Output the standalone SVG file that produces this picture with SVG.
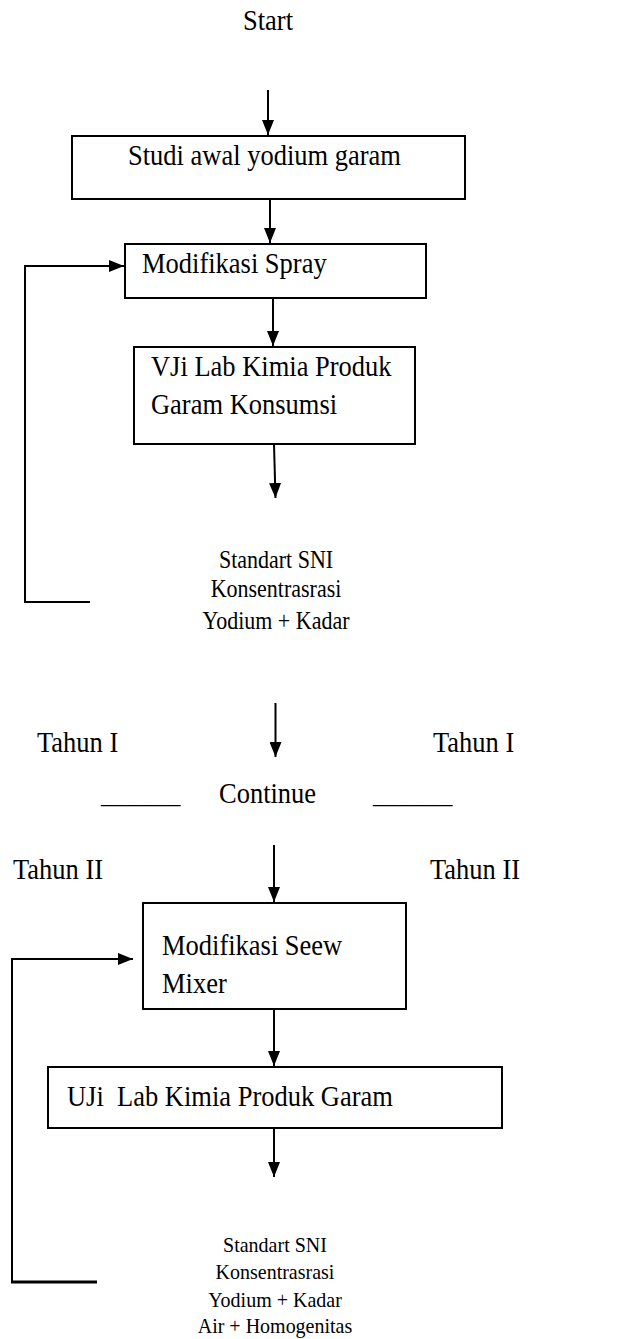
<svg xmlns="http://www.w3.org/2000/svg" width="626" height="1339" viewBox="0 0 626 1339">
<style>
text{font-family:"Liberation Serif","Times New Roman",serif;fill:#000}
.m{font-size:26.5px}
.s{font-size:22px;text-anchor:middle}
.t{font-size:20px;text-anchor:middle}
.box{fill:#fff;stroke:#000;stroke-width:2}
.c{fill:none;stroke:#000;stroke-width:2}
</style>
<defs>
<marker id="ah" viewBox="0 0 15 12" refX="15" refY="6" markerWidth="7.5" markerHeight="6" markerUnits="strokeWidth" orient="auto">
<path d="M0,0 L15,6 L0,12 z" fill="#000"/>
</marker>
</defs>
<g id="start"><text class="m" x="268" y="30" text-anchor="middle" transform="translate(0,-3) scale(1,1.1)">Start</text></g>
<g id="n1"><rect class="box" x="72" y="136" width="393" height="63"/><text class="m" x="128" y="165" transform="translate(0,-16.5) scale(1,1.1)">Studi awal yodium garam</text></g>
<g id="n2"><rect class="box" x="125" y="244" width="301" height="54"/><text class="m" x="142" y="273" transform="translate(0,-27.3) scale(1,1.1)">Modifikasi Spray</text></g>
<g id="n3"><rect class="box" x="134" y="347" width="281" height="97"/><text class="m" transform="translate(0,-37.6) scale(1,1.1)"><tspan x="151" y="376">VJi Lab Kimia Produk</tspan><tspan x="151" y="411">Garam Konsumsi</tspan></text></g>
<g id="r1"><text class="s" transform="translate(0,-57) scale(1,1.1)"><tspan x="276" y="568">Standart SNI</tspan><tspan x="276" y="595">Konsentrasrasi</tspan><tspan x="276" y="623.5">Yodium + Kadar</tspan></text></g>
<g id="tahun1"><text class="m" x="37" y="752" transform="translate(0,-75.2) scale(1,1.1)">Tahun I</text><text class="m" x="433" y="752" transform="translate(0,-75.2) scale(1,1.1)">Tahun I</text></g>
<g id="continue"><text class="m" x="219" y="803" transform="translate(0,-80.3) scale(1,1.1)">Continue</text><text class="m" x="101" y="802.5">______</text><text class="m" x="373" y="802.5">______</text></g>
<g id="tahun2"><text class="m" x="13" y="879" transform="translate(0,-87.9) scale(1,1.1)">Tahun II</text><text class="m" x="430" y="879" transform="translate(0,-87.9) scale(1,1.1)">Tahun II</text></g>
<g id="n4"><rect class="box" x="143" y="903" width="263" height="106"/><text class="m" transform="translate(0,-95.5) scale(1,1.1)"><tspan x="162" y="955">Modifikasi Seew</tspan><tspan x="162" y="990">Mixer</tspan></text></g>
<g id="n5"><rect class="box" x="48" y="1067" width="454" height="61"/><text class="m" x="67" y="1106" transform="translate(0,-110.6) scale(1,1.1)" xml:space="preserve">UJi  Lab Kimia Produk Garam</text></g>
<g id="r2"><text class="t" transform="translate(0,-125) scale(1,1.1)"><tspan x="275" y="1251.5">Standart SNI</tspan><tspan x="275" y="1276">Konsentrasrasi</tspan><tspan x="275" y="1301.5">Yodium + Kadar</tspan><tspan x="275" y="1325.5">Air + Homogenitas</tspan></text></g>
<g id="connectors">
<line class="c" x1="268" y1="90" x2="268" y2="135" marker-end="url(#ah)"/>
<line class="c" x1="270" y1="199" x2="270" y2="243" marker-end="url(#ah)"/>
<line class="c" x1="273" y1="298" x2="273" y2="346" marker-end="url(#ah)"/>
<line class="c" x1="274" y1="444" x2="275.5" y2="498" marker-end="url(#ah)"/>
<polyline class="c" points="90,602 25,602 25,266 124,266" marker-end="url(#ah)"/>
<line class="c" x1="275.5" y1="703" x2="275.5" y2="757" marker-end="url(#ah)"/>
<line class="c" x1="274" y1="845" x2="274" y2="902" marker-end="url(#ah)"/>
<line class="c" x1="274" y1="1009" x2="274" y2="1066" marker-end="url(#ah)"/>
<line class="c" x1="274" y1="1128" x2="274" y2="1177" marker-end="url(#ah)"/>
<polyline class="c" points="12,1282 12,959 133,959" marker-end="url(#ah)"/>
<line class="c" x1="11" y1="1282" x2="97" y2="1282" style="stroke-width:3"/>
</g>
</svg>
